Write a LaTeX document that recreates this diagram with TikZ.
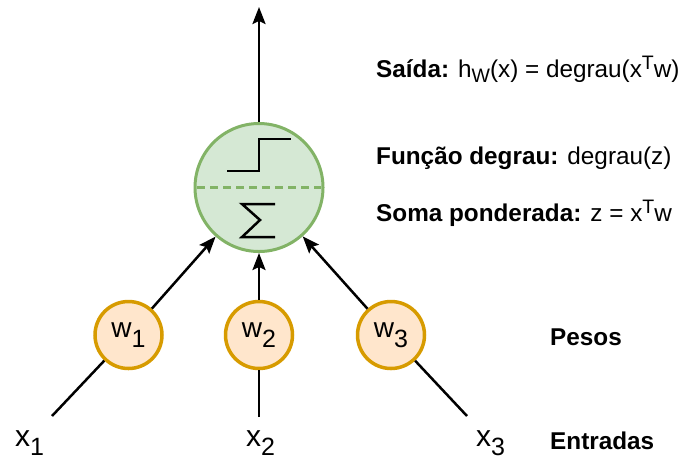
\documentclass[tikz,border=0pt]{standalone}
\usepackage{fontspec}
\setmainfont{Liberation Sans}
\usetikzlibrary{arrows.meta}

\definecolor{sumfill}{HTML}{D5E8D4}
\definecolor{sumline}{HTML}{82B366}
\definecolor{wfill}{HTML}{FFE6CC}
\definecolor{wline}{HTML}{D79B00}

% lowered / raised small text in the label font
\newcommand\lowsub[3]{\raisebox{-#1}{\fontsize{#2}{#2}\selectfont #3}}
\newcommand\highsup[3]{\raisebox{#1}{\fontsize{#2}{#2}\selectfont #3}}

\begin{document}
\begin{tikzpicture}[x=1pt,y=-1pt,
  sumnode/.style={circle, draw=sumline, fill=sumfill, line width=3pt,
    minimum size=128pt, inner sep=0pt},
  wnode/.style={circle, draw=wline, fill=wfill, line width=3.5pt,
    minimum size=67pt, inner sep=0pt, font=\fontsize{28}{30}\selectfont},
  wire/.style={line width=2.5pt, black},
  arr/.style={wire, -{Stealth[length=17pt,width=13pt,inset=3pt]}},
  glyph/.style={line width=2.5pt, black, line join=miter},
  sep/.style={line width=2.5pt, sumline, dash pattern=on 8pt off 5pt},
  lbl/.style={anchor=base west, inner sep=0pt, font=\fontsize{24.3}{28}\selectfont},
  inlbl/.style={anchor=base west, inner sep=0pt, font=\fontsize{30}{32}\selectfont}]

\useasboundingbox (0,0) rectangle (684,459);

% summation / step unit
\node[sumnode] (sum) at (259,187.5) {};
\begin{scope}[shift={(sum.center)}]
  \draw[sep] (-62,0) -- (62,0);
  \draw[glyph] (-32,-16.5) -- (0,-16.5) -- (0,-48.5) -- (32,-48.5);
  \draw[glyph] (16,16.5) -- (-17,16.5) -- (1,32.5) -- (-17,49.5) -- (16,49.5);
\end{scope}

% weights
\node[wnode] (w1) at (128.5,335) {w\lowsub{10pt}{25}{1}};
\node[wnode] (w2) at (259,335) {w\lowsub{10pt}{25}{2}};
\node[wnode] (w3) at (391,335) {w\lowsub{10pt}{25}{3}};

% input wire ends and output end
\coordinate (in1) at (52,416);
\coordinate (in2) at (259,417);
\coordinate (in3) at (467,416);
\coordinate (out) at (259,7);

\draw[wire] (in1) -- (w1);
\draw[wire] (in2) -- (w2);
\draw[wire] (in3) -- (w3);
\draw[arr] (w1) -- (sum);
\draw[arr] (w2) -- (sum);
\draw[arr] (w3) -- (sum);
\draw[arr] (sum) -- (out);

% input labels
\node[inlbl] (x1) at (15,446) {x\lowsub{9pt}{25}{1}};
\node[inlbl] (x2) at (246,446) {x\lowsub{9pt}{25}{2}};
\node[inlbl] (x3) at (476,446) {x\lowsub{9pt}{25}{3}};

% descriptions
\node[lbl] (saida) at (376,77) {\textbf{Saída:} h\lowsub{5pt}{19.5}{W}(x) = degrau(x\highsup{8pt}{19.5}{T}w)};
\node[lbl] (degrau) at (376,164) {\textbf{Função degrau:} degrau(z)};
\node[lbl] (soma) at (376,221) {\textbf{Soma ponderada:} z = x\highsup{8pt}{19.5}{T}w};
\node[lbl] (pesos) at (550,345) {\textbf{Pesos}};
\node[lbl] (entradas) at (550,449) {\textbf{Entradas}};
\end{tikzpicture}
\end{document}
